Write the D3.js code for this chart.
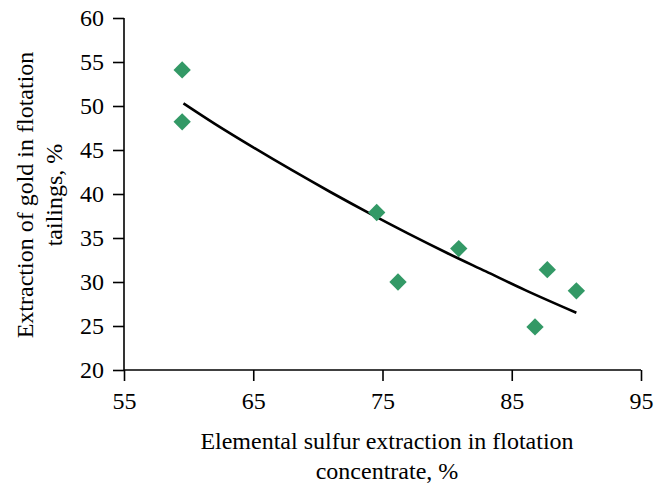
<!DOCTYPE html>
<html>
<head>
<meta charset="utf-8">
<script src="https://cdn.jsdelivr.net/npm/d3@7"></script>
<style>
  body { margin: 0; background: #fff; }
  svg { display: block; }
</style>
</head>
<body>
<svg id="chart" width="660" height="487"></svg>
<script>
// measured points
const sulfur = [59.5, 59.5, 74.55, 76.2, 80.9, 86.8, 87.75, 90.0]
const gold   = [54.1, 48.2, 37.9, 30.0, 33.8, 24.9, 31.4, 29.0]

// trend line
const trendX = [59.6, 62, 65, 68, 71, 74, 77, 80, 83, 86, 90]
const trendY = [50.3, 48.0, 45.3, 42.7, 40.2, 37.8, 35.5, 33.3, 31.2, 29.1, 26.5]

const xTicks = [55, 65, 75, 85, 95]
const yTicks = [20, 25, 30, 35, 40, 45, 50, 55, 60]

const font = "Liberation Serif"
const fontSize = 24

const svg = d3.select("#chart")

const x = d3.scaleLinear().domain([55, 95]).range([124, 641])
const y = d3.scaleLinear().domain([20, 60]).range([370, 18])

function styleAxis(g) {
    g.attr("font-family", font).attr("font-size", fontSize)
    g.selectAll("line").attr("stroke", "#000").attr("stroke-width", 1.6)
    g.select(".domain").attr("stroke", "#000").attr("stroke-width", 1.6)
    g.selectAll("text").attr("fill", "#000")
}

const xAxis = svg.append("g")
    .attr("transform", `translate(0,${y(20)})`)
    .call(d3.axisBottom(x).tickValues(xTicks).tickSize(11).tickSizeOuter(0).tickPadding(11))
    .call(styleAxis)
xAxis.select(".domain").attr("d", `M${x(55)},0H${x(95)}`)

const yAxis = svg.append("g")
    .attr("transform", `translate(${x(55)},0)`)
    .call(d3.axisLeft(y).tickValues(yTicks).tickSize(11).tickSizeOuter(0).tickPadding(9))
    .call(styleAxis)
yAxis.select(".domain").attr("d", `M0,${y(60)}V${y(20)}`)

// trend line
const line = d3.line()
    .x((d, i) => x(trendX[i]))
    .y(d => y(d))
    .curve(d3.curveMonotoneX)

svg.append("path")
    .datum(trendY)
    .attr("d", line)
    .attr("fill", "none")
    .attr("stroke", "#000")
    .attr("stroke-width", 2.6)

// diamonds
const diamond = d3.symbol().type(d3.symbolSquare).size(150)
svg.append("g")
  .selectAll("path")
  .data(sulfur)
  .join("path")
    .attr("d", diamond)
    .attr("transform", (d, i) => `translate(${x(d)},${y(gold[i])}) rotate(45)`)
    .attr("fill", "#339966")

// axis titles
const xt = svg.append("text")
    .attr("font-family", font)
    .attr("font-size", fontSize)
    .attr("text-anchor", "middle")
xt.append("tspan").attr("x", 387).attr("y", 449).text("Elemental sulfur extraction in flotation")
xt.append("tspan").attr("x", 387).attr("y", 479).text("concentrate, %")

const yt = svg.append("text")
    .attr("font-family", font)
    .attr("font-size", fontSize)
    .attr("text-anchor", "middle")
    .attr("transform", "translate(0,195) rotate(-90)")
yt.append("tspan").attr("x", 0).attr("y", 33).text("Extraction of gold in flotation")
yt.append("tspan").attr("x", 0).attr("y", 62).text("tailings, %")
</script>
</body>
</html>
